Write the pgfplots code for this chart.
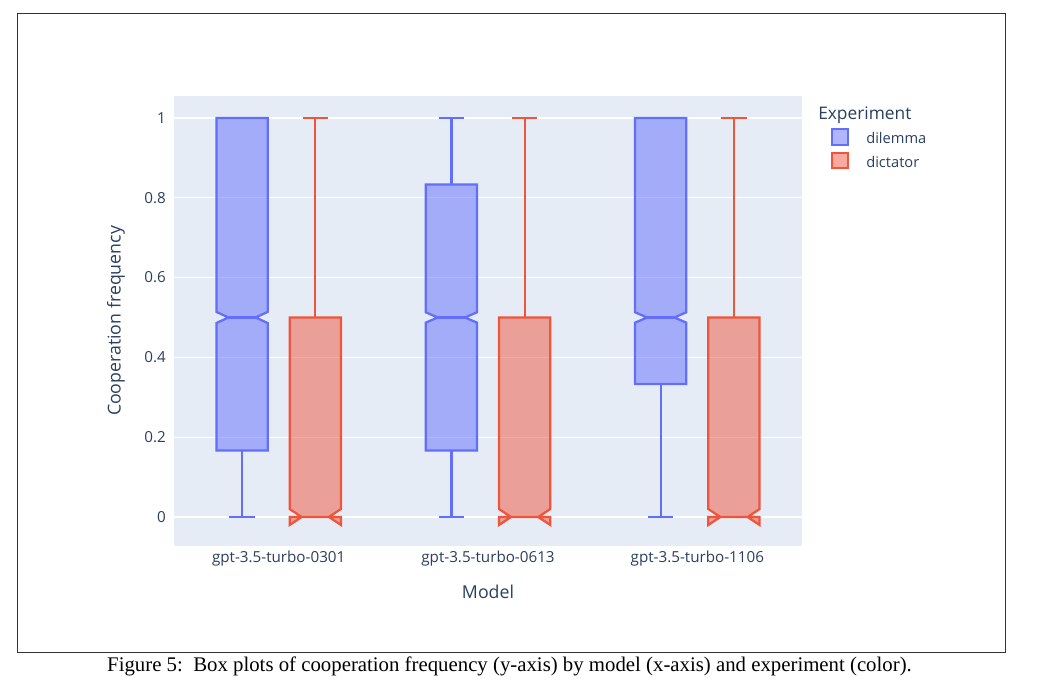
\documentclass[border=0pt]{standalone}
\usepackage{fontspec}
\setmainfont{Open Sans}
\newfontfamily\capfont{Liberation Serif}
\usepackage{pgfplots}
\pgfplotsset{compat=1.18}

\definecolor{bg}{HTML}{E5ECF6}
\definecolor{txt}{HTML}{2A3F5F}
\definecolor{dil}{HTML}{636EFA}
\definecolor{dic}{HTML}{EF553B}

% notched box: center, q1, median, q3, lower fence, upper fence, notch half-height, colour
\newcommand\notchbox[8]{%
  \pgfmathsetmacro\bxL{#1-0.1225}%
  \pgfmathsetmacro\bxR{#1+0.1225}%
  \pgfmathsetmacro\ntL{#1-0.065}%
  \pgfmathsetmacro\ntR{#1+0.065}%
  \pgfmathsetmacro\ntLo{#3-#7}%
  \pgfmathsetmacro\ntHi{#3+#7}%
  \pgfmathsetmacro\cpL{#1-0.061}%
  \pgfmathsetmacro\cpR{#1+0.061}%
  \addplot[draw=#8, fill=#8, fill opacity=0.5, line width=1.7pt]
    coordinates {(\bxL,#2) (\bxL,\ntLo) (\ntL,#3) (\bxL,\ntHi) (\bxL,#4)
                 (\bxR,#4) (\bxR,\ntHi) (\ntR,#3) (\bxR,\ntLo) (\bxR,#2)} -- cycle;
  \addplot[draw=#8, line width=1.7pt] coordinates {(\ntL,#3) (\ntR,#3)};
  \pgfmathtruncatemacro\haslow{#5<#2}%
  \ifnum\haslow=1
    \addplot[draw=#8, line width=1.7pt] coordinates {(#1,#2) (#1,#5)};
    \addplot[draw=#8, line width=1.7pt] coordinates {(\cpL,#5) (\cpR,#5)};
  \fi
  \pgfmathtruncatemacro\hashigh{#6>#4}%
  \ifnum\hashigh=1
    \addplot[draw=#8, line width=1.7pt] coordinates {(#1,#4) (#1,#6)};
    \addplot[draw=#8, line width=1.7pt] coordinates {(\cpL,#6) (\cpR,#6)};
  \fi
}

\begin{document}
\begin{tikzpicture}
\begin{scope}[x=0.75pt,y=-0.75pt]
  \path[use as bounding box] (0,0) rectangle (1054,691);
  \draw[black!80, line width=0.75pt] (17,14) rectangle (1005,652);
\end{scope}

\begin{axis}[
  at={(130.5pt,-409.5pt)}, anchor=south west,
  scale only axis, width=471pt, height=337.5pt,
  xmin=-0.5, xmax=2.5, ymin=-0.0727, ymax=1.055,
  axis background/.style={fill=bg},
  axis line style={draw=none},
  major tick length=0pt,
  xtick={0,1,2},
  xticklabels={gpt-3.5-turbo-0301,gpt-3.5-turbo-0613,gpt-3.5-turbo-1106},
  ytick={0,0.2,0.4,0.6,0.8,1},
  yticklabels={0,0.2,0.4,0.6,0.8,1},
  ymajorgrids,
  grid style={white, line width=0.9pt},
  ticklabel style={font=\fontsize{11.4}{13.5}\selectfont, text=txt, inner sep=0pt},
  yticklabel style={xshift=-6pt},
  xticklabel style={yshift=-3.75pt},
  xlabel={Model},
  ylabel={Cooperation frequency},
  label style={font=\fontsize{13.3}{16}\selectfont, text=txt, inner sep=0pt},
  xlabel style={at={(axis description cs:0.5,-0.1022)}, anchor=center},
  ylabel style={at={(axis description cs:-0.0924,0.5)}, anchor=center},
]
\notchbox{-0.175}{0.1667}{0.5}{1}{0}{1}{0.014}{dil}
\notchbox{0.825}{0.1667}{0.5}{0.8333}{0}{1}{0.013}{dil}
\notchbox{1.825}{0.3333}{0.5}{1}{0}{1}{0.013}{dil}
\notchbox{0.175}{0}{0}{0.5}{0}{1}{0.02}{dic}
\notchbox{1.175}{0}{0}{0.5}{0}{1}{0.02}{dic}
\notchbox{2.175}{0}{0}{0.5}{0}{1}{0.02}{dic}
\end{axis}

\begin{scope}[x=0.75pt,y=-0.75pt]
  \node[anchor=base west, inner sep=0pt, text=txt, font=\fontsize{13}{15.5}\selectfont] at (818,119.3) {Experiment};
  \draw[dil, fill=dil, fill opacity=0.5, line width=1.7pt] (832,129) rectangle (848,145);
  \draw[dic, fill=dic, fill opacity=0.5, line width=1.7pt] (832,153) rectangle (848,168);
  \node[anchor=base west, inner sep=0pt, text=txt, font=\fontsize{11}{13}\selectfont] at (866,143.3) {dilemma};
  \node[anchor=base west, inner sep=0pt, text=txt, font=\fontsize{11}{13}\selectfont] at (866,167.3) {dictator};
  \node[anchor=center, inner sep=0pt, font=\capfont\fontsize{15.6}{18}\selectfont] at (509.5,666) {Figure 5:\ \ Box plots of cooperation frequency (y-axis) by model (x-axis) and experiment (color).};
\end{scope}
\end{tikzpicture}
\end{document}
